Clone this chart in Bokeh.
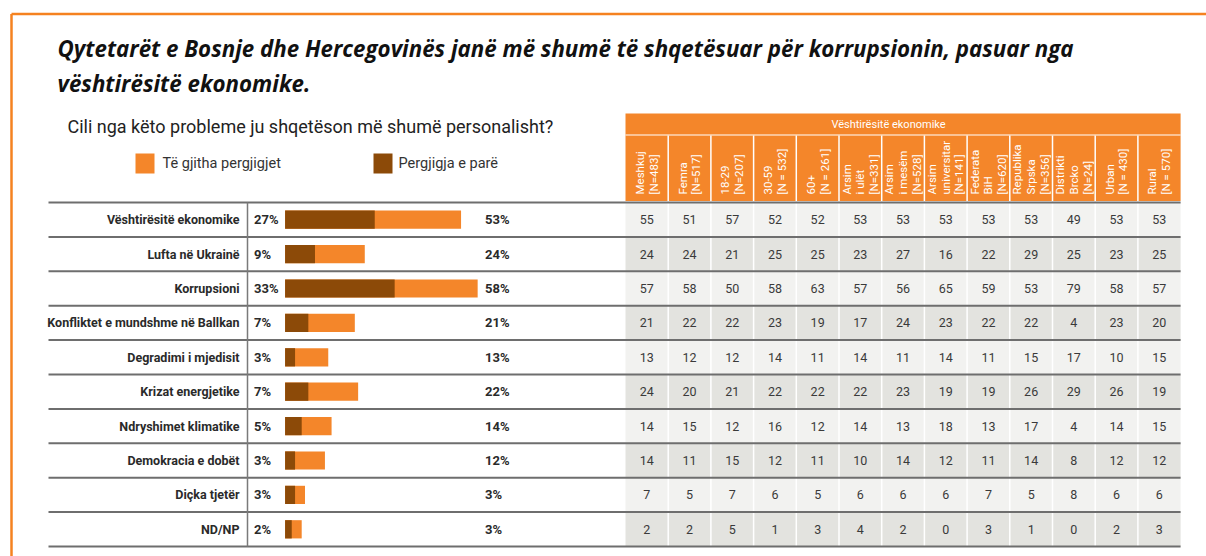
import math
from bokeh.plotting import figure
from bokeh.models import Range1d, ColumnDataSource
from bokeh.core.properties import value
from bokeh.embed import file_html
from bokeh.resources import INLINE

# ---------------- data ----------------
title_lines = ["Qytetarët e Bosnje dhe Hercegovinës janë më shumë të shqetësuar për korrupsionin, pasuar nga",
               "vështirësitë ekonomike."]
question = "Cili nga këto probleme ju shqetëson më shumë personalisht?"
legend_all = "Të gjitha pergjigjet"
legend_first = "Pergjigja e parë"
group_header = "Vështirësitë ekonomike"

categories = ["Vështirësitë ekonomike", "Lufta në Ukrainë", "Korrupsioni",
              "Konfliktet e mundshme në Ballkan", "Degradimi i mjedisit",
              "Krizat energjetike", "Ndryshimet klimatike", "Demokracia e dobët",
              "Diçka tjetër", "ND/NP"]
first_answer = [27, 9, 33, 7, 3, 7, 5, 3, 3, 2]
all_answers = [53, 24, 58, 21, 13, 22, 14, 12, 3, 3]
# bar lengths as drawn in the original (last two bars are longer than their labels)
all_answers_bar = [53, 24, 58, 21, 13, 22, 14, 12, 6, 5]

column_labels = ["Meshkuj\n[N=483]", "Femra\n[N=517]", "18-29\n[N=207]", "30-59\n[N = 532]",
                 "60+\n[N = 261]", "Arsim\ni ulët\n[N=331]", "Arsim\ni mesëm\n[N=528]",
                 "Arsim\nuniversitar\n[N=141]", "Federata\nBiH\n[N=620]",
                 "Republika\nSrpska\n[N=356]", "Distrikti\nBrcko\n[N=24]",
                 "Urban\n[N = 430]", "Rural\n[N = 570]"]

meshkuj = [55, 24, 57, 21, 13, 24, 14, 14, 7, 2]
femra = [51, 24, 58, 22, 12, 20, 15, 11, 5, 2]
age_18_29 = [57, 21, 50, 22, 12, 21, 12, 15, 7, 5]
age_30_59 = [52, 25, 58, 23, 14, 22, 16, 12, 6, 1]
age_60 = [52, 25, 63, 19, 11, 22, 12, 11, 5, 3]
arsim_ulet = [53, 23, 57, 17, 14, 22, 14, 10, 6, 4]
arsim_mesem = [53, 27, 56, 24, 11, 23, 13, 14, 6, 2]
arsim_univ = [53, 16, 65, 23, 14, 19, 18, 12, 6, 0]
federata = [53, 22, 59, 22, 11, 19, 13, 11, 7, 3]
republika = [53, 29, 53, 22, 15, 26, 17, 14, 5, 1]
brcko = [49, 25, 79, 4, 17, 29, 4, 8, 8, 0]
urban = [53, 23, 58, 23, 10, 26, 14, 12, 6, 2]
rural = [53, 25, 57, 20, 15, 19, 15, 12, 6, 3]
table_columns = [meshkuj, femra, age_18_29, age_30_59, age_60, arsim_ulet, arsim_mesem,
                 arsim_univ, federata, republika, brcko, urban, rural]

# ---------------- style / layout ----------------
W, H = 1206, 556
ORANGE = "#F4862A"
BROWN = "#8C4A08"
FRAME = "#F58220"
LINE = "#6e6e6e"
LIGHT = "#F2F2F0"
DARK = "#E3E3DF"
FONT = value("Roboto")

p = figure(width=W, height=H, output_backend="svg", toolbar_location=None,
           x_range=Range1d(0, W), y_range=Range1d(H, 0),
           x_axis_location=None, y_axis_location=None, min_border=0,
           background_fill_color="white", border_fill_color="white")
p.outline_line_color = None
p.grid.visible = False

# percent scale for the bars
pct0, ppp = 284.6, 3.32
p.extra_x_ranges["pct"] = Range1d(-pct0 / ppp, (W - pct0) / ppp)
# row scale
row0, rh = 219.2, 34.4
p.extra_y_ranges["row"] = Range1d((H - row0) / rh, -row0 / rh)
# column scale for the table
col_left, cw = 625.0, 42.7
c0 = col_left + cw / 2
p.extra_x_ranges["col"] = Range1d(-c0 / cw, (W - c0) / cw)

n_rows = len(categories)
n_cols = len(table_columns)
rows = list(range(n_rows))
table_right = col_left + n_cols * cw

# frame
p.segment(x0=[11, 11], y0=[13.5, 13.5], x1=[W, 11], y1=[13.5, H], line_color=FRAME, line_width=2.5)

# title
p.text(x=[57, 57], y=[48, 83], text=title_lines, text_font=value("Open Sans"), text_font_size="22.3px",
       text_font_style="bold italic", text_color="#111111", text_baseline="middle", text_align="left")
p.text(x=[67], y=[126], text=[question], text_font=FONT, text_font_size="18px",
       text_color="#222222", text_baseline="middle", text_align="left")

# legend
p.rect(x=[144.5, 382.5], y=[163, 163], width=19, height=20, fill_color=[ORANGE, BROWN], line_color=None)
p.text(x=[162, 398], y=[163, 163], text=[legend_all, legend_first], text_font=FONT,
       text_font_size="14.5px", text_color="#333333", text_baseline="middle", text_align="left")

# table header
p.quad(left=[col_left], right=[table_right], top=[113], bottom=[200.5],
       fill_color=ORANGE, line_color=None)
p.segment(x0=[col_left], x1=[table_right], y0=[134.5], y1=[134.5], line_color="white", line_width=1.2)
p.text(x=[888], y=[124], text=[group_header], text_font=FONT, text_font_size="11px",
       text_color="white", text_baseline="middle", text_align="center")

# table cells
cell_src = ColumnDataSource(dict(
    x=[j for i in rows for j in range(n_cols)],
    y=[i for i in rows for j in range(n_cols)],
    fill=[(LIGHT if i % 2 == 0 else DARK) for i in rows for j in range(n_cols)],
    txt=[str(table_columns[j][i]) for i in rows for j in range(n_cols)],
))
p.rect(x="x", y="y", width=1, height=1, fill_color="fill", line_color=None, source=cell_src,
       x_range_name="col", y_range_name="row")

# white column separators (header + table)
seps = [j + 0.5 for j in range(n_cols - 1)]
p.segment(x0=seps, x1=seps, y0=[135] * len(seps), y1=[row0 + (n_rows - 0.5) * rh] * len(seps),
          line_color="white", line_width=1.5, x_range_name="col")

# column header labels (rotated)
p.text(x=list(range(n_cols)), y=[194] * n_cols, text=column_labels, angle=math.pi / 2,
       text_font=FONT, text_font_size="11.5px", text_color="white", text_align="left",
       text_baseline="middle", text_line_height=0.98, x_range_name="col")

# row lines
ylines = [i - 0.5 for i in range(n_rows + 1)]
p.segment(x0=[48] * len(ylines), x1=[table_right] * len(ylines), y0=ylines, y1=ylines,
          line_color=LINE, line_width=2, y_range_name="row")
# vertical divider after labels
p.segment(x0=[247], x1=[247], y0=[-0.5], y1=[n_rows - 0.5], line_color="#7a7a7a", line_width=1.5,
          y_range_name="row")

# row labels
p.text(x=[239] * n_rows, y=rows, text=categories, text_font=FONT, text_font_size="12.5px",
       text_font_style="bold", text_color="#2a2a2a", text_align="right", text_baseline="middle",
       y_range_name="row")

# bars
bar_src = ColumnDataSource(dict(y=rows, first=first_answer, all=all_answers_bar,
                                first_lbl=[f"{v}%" for v in first_answer],
                                all_lbl=[f"{v}%" for v in all_answers]))
p.hbar(y="y", left=0, right="all", height=0.53, fill_color=ORANGE, line_color=None, source=bar_src,
       x_range_name="pct", y_range_name="row")
p.hbar(y="y", left=0, right="first", height=0.53, fill_color=BROWN, line_color=None, source=bar_src,
       x_range_name="pct", y_range_name="row")

# percentage labels
p.text(x=253.5, y="y", text="first_lbl", text_font=FONT, text_font_size="13px", text_font_style="bold",
       text_color="#2a2a2a", text_align="left", text_baseline="middle", source=bar_src, y_range_name="row")
p.text(x=484.6, y="y", text="all_lbl", text_font=FONT, text_font_size="13px", text_font_style="bold",
       text_color="#2a2a2a", text_align="left", text_baseline="middle", source=bar_src, y_range_name="row")

# table values
p.text(x="x", y="y", text="txt", text_font=FONT, text_font_size="12.5px", text_color="#3a3a3a",
       text_align="center", text_baseline="middle", source=cell_src, x_range_name="col", y_range_name="row")

open("out.html", "w").write(file_html(p, INLINE))
